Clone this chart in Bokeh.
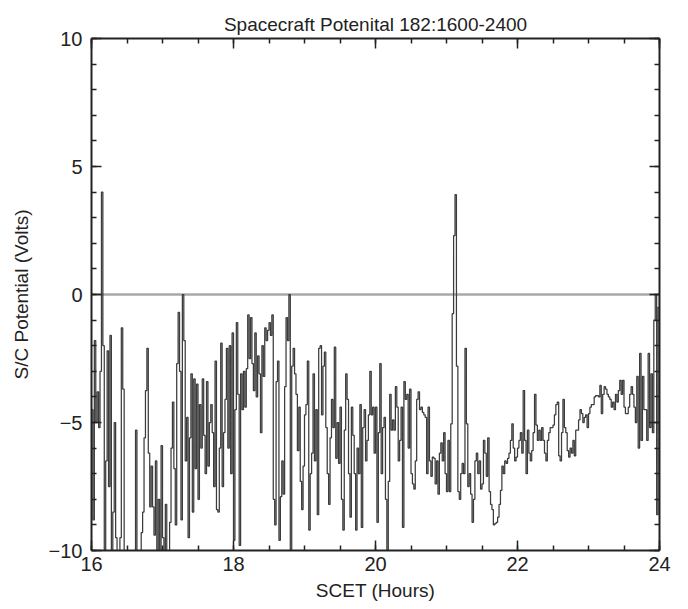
from bokeh.plotting import figure
from bokeh.models import LinearAxis, SingleIntervalTicker, Span, Range1d
from bokeh.embed import file_html
from bokeh.resources import INLINE

# Spacecraft potential (Volts), sampled every 0.02 h starting at 16.00 SCET
potential_1600_1756 = [
    -4.5, -8.8, -1.8, -5.0, -3.8, -5.2, -3.0, 4.0, -2.0, -12,
    -6.5, -2.2, -7.5, -1.6, -11, -8.5, -5.0, -9.5, -12, -11,
    -9.5, -1.3, -3.7, -11, -12, -12, -12, -12, -12, -12,
    -12, -5.3, -12, -12, -12, -9.3, -8.5, -5.6, -3.75, -2.1,
    -6.2, -8.3, -6.7, -8.3, -9.4, -6.5, -10.5, -8.0, -11, -5.9,
    -9.5, -10.2, -8.2, -11, -11, -8.9, -6.0, -4.2, -6.8, -9.0,
    -2.7, -0.7, -3.0, -8.8, 0.0, -1.8, -6.5, -4.8, -9.5, -5.6,
    -3.1, -8.5, -3.3, -6.8, -3.5, -8.0, -4.3, -6.0, -3.3,
]
potential_1758_1916 = [
    -5.5, -7.0, -3.4, -6.7, -5.0, -4.3, -5.4, -7.5, -2.6, -8.4,
    -8.5, -6.0, -1.9, -7.5, -5.4, -4.1, -2.1, -6.0, -2.0, -7.0,
    -1.5, -9.6, -4.5, -1.1, -3.9, -9.8, -3.1, -4.5, -3.0, -4.4,
    -2.9, -0.8, -2.5, -0.9, -2.7, -3.75, -1.5, -4.0, -2.4, -3.1,
    -5.4, -2.0, -3.2, -1.3, -1.8, -1.4, -1.1, -1.6, -0.8, -8.0,
    -9.0, -3.4, -2.6, -9.6, -7.9, -6.5, -7.8, -3.6, -0.9, -1.8,
    0.0, -11, -2.8, -2.1, -3.1, -3.9, -6.1, -4.4, -7.3, -8.4,
    -6.7, -4.7, -4.3, -2.6, -9.2, -7.0, -6.2, -3.1, -6.5, -4.5,
]
potential_1918_2076 = [
    -8.6, -2.1, -2.0, -4.7, -2.8, -2.25, -5.2, -7.0, -8.2, -5.6,
    -4.1, -5.2, -2.06, -6.4, -5.0, -6.6, -4.4, -8.0, -9.2, -5.3,
    -3.1, -4.1, -7.0, -8.7, -4.4, -5.5, -7.0, -9.2, -6.0, -7.0,
    -4.3, -9.1, -5.2, -4.5, -6.5, -5.7, -4.7, -3.0, -4.7, -4.4,
    -6.2, -4.4, -8.9, -5.4, -2.7, -7.0, -5.2, -4.8, -8.0, -10.5,
    -7.3, -3.9, -5.3, -4.9, -5.3, -3.6, -4.4, -6.5, -5.7, -4.4,
    -9.1, -3.4, -4.1, -3.9, -6.0, -3.7, -7.0, -7.4, -7.6, -6.5,
    -4.1, -3.8, -4.5, -4.4, -4.6, -4.7, -4.8, -7.0, -4.4, -6.5,
]
potential_2078_2234 = [
    -7.1, -6.35, -6.4, -7.4, -6.5, -7.8, -6.2, -5.8, -6.5, -5.4,
    -7.0, -7.7, -5.7, -7.7, -5.05, -0.75, 2.3, 3.9, -2.8, -7.7,
    -8.0, -7.0, -6.6, -7.0, -2.1, -5.05, -7.5, -7.0, -7.8, -8.9,
    -8.0, -6.5, -6.2, -7.0, -6.5, -7.6, -7.4, -5.7, -6.2, -7.1,
    -5.6, -7.7, -8.2, -8.4, -9.0, -8.95, -8.9, -8.7, -8.2, -7.65,
    -6.7, -7.0, -6.5, -6.6, -6.4, -6.2, -5.7, -5.05, -6.0, -6.5,
    -6.35, -6.0, -5.7, -5.4, -6.2, -3.75, -5.7, -7.0, -5.3, -6.2,
    -6.5, -6.1, -5.4, -3.9, -5.1, -5.7, -5.3, -5.7, -5.2,
]
potential_2236_2400 = [
    -5.7, -6.2, -6.5, -5.7, -5.4, -5.2, -5.2, -5.1, -4.7, -4.3,
    -4.2, -6.3, -6.5, -5.4, -4.1, -5.2, -5.4, -6.1, -6.35, -6.0,
    -6.2, -5.7, -6.3, -5.3, -5.3, -4.9, -4.5, -4.65, -5.0, -4.8,
    -4.7, -5.2, -4.65, -4.4, -4.3, -4.3, -4.0, -3.95, -3.95, -4.0,
    -3.55, -4.65, -3.9, -3.6, -3.7, -3.9, -4.0, -4.1, -4.4, -4.2,
    -4.5, -3.9, -4.2, -3.75, -3.35, -3.9, -3.35, -4.4, -4.65, -4.65,
    -4.4, -3.9, -3.6, -3.9, -4.4, -5.0, -3.2, -6.0, -2.3, -5.7,
    -3.2, -4.5, -4.5, -5.7, -2.3, -5.2, -3.1, -5.4, -1.0, 0.0,
    -8.6, -0.5, 0.0,
]

potential = (potential_1600_1756 + potential_1758_1916 + potential_1918_2076
             + potential_2078_2234 + potential_2236_2400)
start_hour = 16.0
sample_step = 0.02
hours = [start_hour + sample_step * i for i in range(len(potential))]

x_ticks = [16, 18, 20, 22, 24]
y_ticks = [-10, -5, 0, 5, 10]

FONT = "Liberation Sans"
INK = "#222222"

p = figure(width=688, height=609, output_backend="svg", toolbar_location=None,
           x_range=Range1d(16, 24), y_range=Range1d(-10, 10),
           min_border_left=91, min_border_right=29, min_border_top=38,
           min_border_bottom=59,
           title="Spacecraft Potenital 182:1600-2400")
p.background_fill_color = "white"
p.border_fill_color = "white"
p.outline_line_color = None
p.grid.visible = False

p.title.align = "center"
p.title.text_font = FONT
p.title.text_font_size = "19px"
p.title.text_font_style = "normal"
p.title.text_color = INK
p.title.standoff = 8

zero = Span(location=0, dimension="width", line_color="#a8a8a8", line_width=2.5,
            level="underlay")
p.add_layout(zero)

p.step(hours, potential, mode="after", line_color="#3c3c3c", line_width=1.25)

p.add_layout(LinearAxis(), "above")
p.add_layout(LinearAxis(), "right")

for ax in p.xaxis:
    ax.ticker = SingleIntervalTicker(interval=2, num_minor_ticks=4)
for ax in p.yaxis:
    ax.ticker = SingleIntervalTicker(interval=5, num_minor_ticks=5)

for ax in p.axis:
    ax.axis_line_color = INK
    ax.axis_line_width = 2
    ax.major_tick_line_color = INK
    ax.minor_tick_line_color = INK
    ax.major_tick_line_width = 1.5
    ax.minor_tick_line_width = 1.5
    ax.major_tick_in = 10
    ax.major_tick_out = 0
    ax.minor_tick_in = 5
    ax.minor_tick_out = 0
    ax.major_label_text_font = FONT
    ax.major_label_text_font_size = "20px"
    ax.major_label_text_color = INK
    ax.axis_label_text_font = FONT
    ax.axis_label_text_font_size = "19px"
    ax.axis_label_text_font_style = "normal"
    ax.axis_label_text_color = INK

p.above[0].major_label_text_font_size = "0px"
p.above[0].major_label_standoff = 0
p.right[0].major_label_text_font_size = "0px"
p.right[0].major_label_standoff = 0

p.below[0].axis_label = "SCET (Hours)"
p.below[0].major_label_standoff = 6
p.below[0].axis_label_standoff = 6
p.left[0].axis_label = "S/C Potential (Volts)"
p.left[0].major_label_standoff = 9
p.left[0].axis_label_standoff = 14

open("out.html", "w").write(file_html(p, INLINE))
